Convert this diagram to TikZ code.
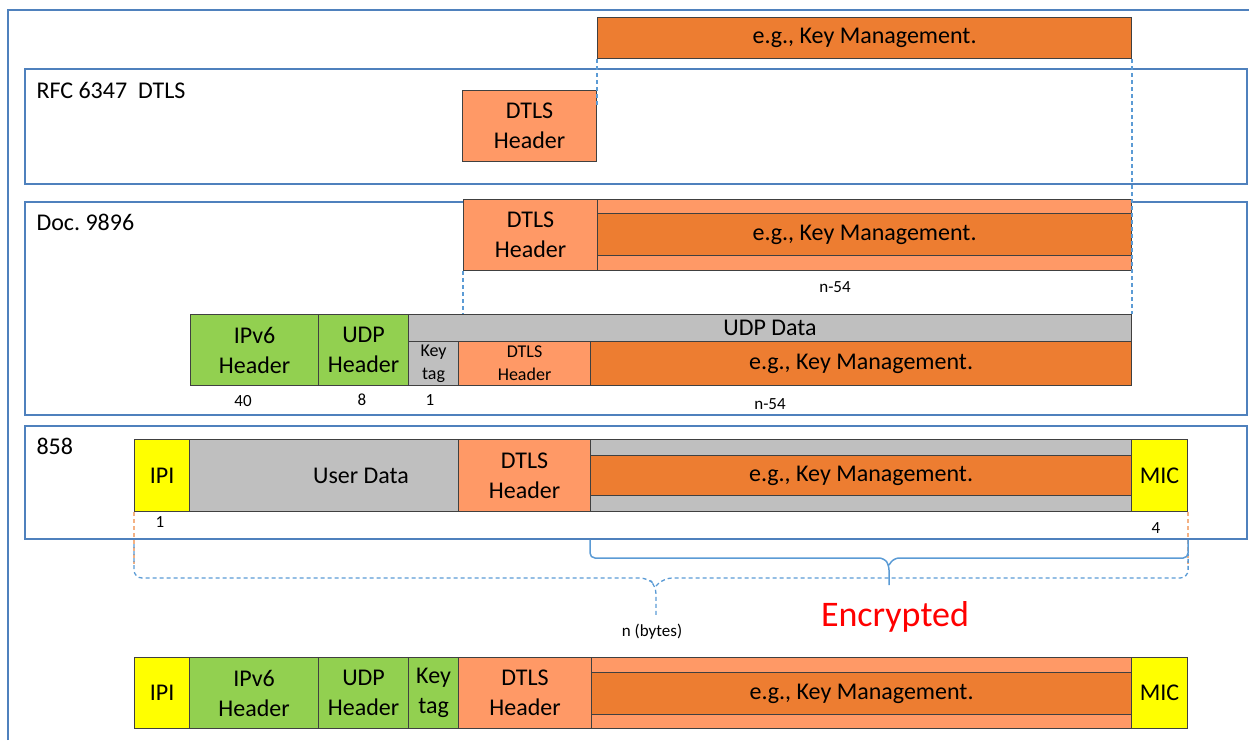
\documentclass[tikz,border=0pt]{standalone}
\usepackage{fontspec}
\setmainfont{Carlito}
\usepackage{tikz}
\frenchspacing

\definecolor{keyorange}{HTML}{ED7D31}
\definecolor{hdrorange}{HTML}{FF9966}
\definecolor{hdrgreen}{HTML}{92D050}
\definecolor{datagray}{HTML}{BFBFBF}
\definecolor{secyellow}{HTML}{FFFF00}
\definecolor{frameblue}{HTML}{4F81BD}
\definecolor{guideblue}{HTML}{5B9BD5}
\definecolor{guideorange}{HTML}{F4B183}

\begin{document}
\begin{tikzpicture}[x=1pt, y=-1pt,
    field/.style={draw=black!75, line width=1.1pt, anchor=north west, inner sep=0pt, align=center, font=\fontsize{24}{30}\selectfont},
    smallfield/.style={field, font=\fontsize{18}{23}\selectfont},
    layer/.style={draw=frameblue, line width=1.8pt, anchor=north west, minimum width=1222, inner sep=0pt},
    layername/.style={anchor=west, font=\fontsize{24}{28}\selectfont},
    size/.style={font=\fontsize{17}{19}\selectfont},
    guide/.style={guideblue, line width=1.3pt, dash pattern=on 4pt off 3pt},
    pad/.style={guideorange, line width=1.3pt, dash pattern=on 4pt off 3pt},
    encbrace/.style={guideblue, line width=1.5pt, rounded corners=5pt}]
    \useasboundingbox (0,0) rectangle (1249,740);
    \draw[frameblue, line width=1.8pt] (8,740) -- (8,10) -- (1249,10);

    \node[layer, minimum height=115] (rfc) at (24,68) {};
    \node[layer, minimum height=213] (doc) at (24,201) {};
    \node[layer, minimum height=113] (icao) at (24,425) {};
    \node[layername] (rfcname) at (33,90) {RFC 6347~ DTLS};
    \node[layername] (docname) at (33,222) {Doc. 9896};
    \node[layername] (icaoname) at (33,446) {858};

    \node[field, fill=keyorange, minimum width=534, minimum height=41] (kmtop) at (597,17) {e.g., Key Management.};
    \node[field, fill=hdrorange, minimum width=134, minimum height=71] (dtlsrfc) at (462,90) {DTLS\\Header};

    \node[field, fill=hdrorange, minimum width=134, minimum height=71] (dtlsdoc) at (463,199) {DTLS\\Header};
    \node[field, fill=hdrorange, minimum width=534, minimum height=71] (banddoc) at (597,199) {};
    \node[field, fill=keyorange, minimum width=534, minimum height=42] (kmdoc) at (597,213) {e.g., Key Management.};
    \node[size] (lendoc) at (835,287) {n-54};

    \node[field, fill=hdrgreen, minimum width=128, minimum height=71] (ipv6doc) at (190,314) {IPv6\\Header};
    \node[field, fill=hdrgreen, minimum width=90, minimum height=71] (udpdoc) at (318,314) {UDP\\Header};
    \node[field, fill=datagray, minimum width=723, minimum height=27] (udpdata) at (408,314) {UDP Data};
    \node[smallfield, fill=datagray, minimum width=50, minimum height=44] (keydoc) at (408,341) {Key\\tag};
    \node[smallfield, fill=hdrorange, minimum width=132, minimum height=44] (dtlsudp) at (458,341) {DTLS\\Header};
    \node[field, fill=keyorange, minimum width=541, minimum height=44] (kmudp) at (590,341) {e.g., Key Management.};
    \node[size] (len40) at (243,401) {40};
    \node[size] (len8) at (362,400) {8};
    \node[size] (len1) at (430,400) {1};
    \node[size] (lenudp) at (770,404) {n-54};

    \node[field, fill=datagray, minimum width=942, minimum height=72] (userdata) at (189,439) {};
    \node[field, fill=secyellow, minimum width=55, minimum height=72] (ipi) at (134,439) {IPI};
    \node[field, fill=hdrorange, minimum width=132, minimum height=72] (dtlsicao) at (458,439) {DTLS\\Header};
    \node[field, fill=keyorange, minimum width=541, minimum height=40] (kmicao) at (590,455) {e.g., Key Management.};
    \node[field, fill=secyellow, minimum width=56, minimum height=72] (mic) at (1131,439) {MIC};
    \node[font=\fontsize{24}{30}\selectfont] (userlbl) at (361,476) {User Data};
    \node[size] (lenipi) at (160,522) {1};
    \node[size] (lenmic) at (1156,528) {4};

    \draw[guide] (kmtop.south west) -- ++(0,47);
    \draw[guide] (kmtop.south east) -- (udpdata.north east);
    \draw[guide] (dtlsdoc.south west) -- (dtlsdoc.south west |- udpdata.north);
    \draw[pad] (ipi.south west) -- ++(0,52);
    \draw[pad] (mic.south east) -- ++(0,52);

    \coordinate (encL) at (kmicao.west |- icao.south);
    \coordinate (encR) at (mic.east |- icao.south);
    \draw[encbrace] (encL) |- (884,558) -- (889,565) -- (889,585) (889,565) -- (894,558) -| (encR);
    \draw[guide, rounded corners=8pt] (ipi.south west) ++(0,32) |- (648,578) -- (656,586) -- (656,615) (656,586) -- (664,578) -| ([yshift=-42pt]mic.south east);
    \node[size] (nbytes) at (652,632) {n (bytes)};
    \node[text=red, font=\fontsize{36}{42}\selectfont] (enc) at (895,617) {Encrypted};

    \node[field, fill=secyellow, minimum width=55, minimum height=71] (ipiout) at (134,657) {IPI};
    \node[field, fill=hdrgreen, minimum width=129, minimum height=71] (ipv6out) at (189,657) {IPv6\\Header};
    \node[field, fill=hdrgreen, minimum width=90, minimum height=71] (udpout) at (318,657) {UDP\\Header};
    \node[field, fill=hdrgreen, minimum width=50, minimum height=71] (keyout) at (408,657) {Key\\tag};
    \node[field, fill=hdrorange, minimum width=133, minimum height=71] (dtlsout) at (458,657) {DTLS\\Header};
    \node[field, fill=hdrorange, minimum width=540, minimum height=71] (bandout) at (591,657) {};
    \node[field, fill=keyorange, minimum width=540, minimum height=42] (kmout) at (591,672) {e.g., Key Management.};
    \node[field, fill=secyellow, minimum width=56, minimum height=71] (micout) at (1131,657) {MIC};
\end{tikzpicture}
\end{document}
